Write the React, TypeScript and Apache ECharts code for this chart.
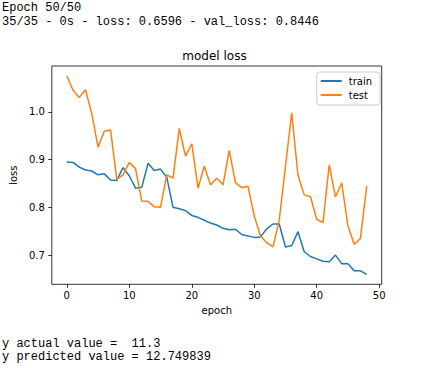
import React, { useEffect, useRef } from "react";
import * as echarts from "echarts";

const epochs = [
  0, 1, 2, 3, 4, 5, 6, 7, 8, 9, 10, 11, 12, 13, 14, 15, 16, 17, 18, 19, 20, 21, 22, 23, 24,
  25, 26, 27, 28, 29, 30, 31, 32, 33, 34, 35, 36, 37, 38, 39, 40, 41, 42, 43, 44, 45, 46, 47, 48,
];

const trainLoss = [
  0.895, 0.894, 0.884, 0.878, 0.876, 0.868, 0.87, 0.857, 0.856, 0.883, 0.866, 0.84, 0.842,
  0.892, 0.877, 0.88, 0.863, 0.8, 0.797, 0.793, 0.783, 0.779, 0.773, 0.767, 0.763, 0.756,
  0.753, 0.754, 0.743, 0.74, 0.737, 0.738, 0.755, 0.765, 0.765, 0.717, 0.72, 0.749, 0.707,
  0.697, 0.692, 0.687, 0.686, 0.7, 0.682, 0.682, 0.667, 0.667, 0.6596,
];

const testLoss = [
  1.075, 1.045, 1.03, 1.046, 0.996, 0.926, 0.959, 0.962, 0.859, 0.868, 0.894, 0.881, 0.813,
  0.8125, 0.801, 0.8, 0.868, 0.861, 0.965, 0.907, 0.933, 0.84, 0.886, 0.847, 0.861, 0.847,
  0.919, 0.851, 0.841, 0.844, 0.782, 0.74, 0.726, 0.717, 0.773, 0.886, 0.998, 0.867, 0.826,
  0.822, 0.775, 0.768, 0.889, 0.8215, 0.851, 0.761, 0.7225, 0.735, 0.8446,
];

const xTicks = [0, 10, 20, 30, 40, 50];
const yTicks = [0.7, 0.8, 0.9, 1.0];

const consoleTop = ["Epoch 50/50", "35/35 - 0s - loss: 0.6596 - val_loss: 0.8446"];
const consoleBottom = ["y actual value =  11.3", "y predicted value = 12.749839"];

const seriesNames = ["train", "test"];
const chartTitle = "model loss";

export default function App() {
  const ref = useRef<HTMLDivElement>(null);

  useEffect(() => {
    if (!ref.current) return;
    const chart = echarts.init(ref.current, undefined, { renderer: "svg" });
    const mono = '"Liberation Mono", "DejaVu Sans Mono", monospace';
    const sans = '"DejaVu Sans", sans-serif';
    const gridLeft = 47.3;
    const gridRight = 62.3;
    const gridTop = 66;
    const gridBottom = 83.7;
    const plotCenterX = gridLeft + (444 - gridLeft - gridRight) / 2;

    const consoleText = (text: string, y: number) => ({
      type: "text",
      x: 2,
      y,
      style: {
        text,
        fill: "#000",
        font: `12px ${mono}`,
        verticalAlign: "middle",
        align: "left",
      },
    });

    chart.setOption({
      animation: false,
      backgroundColor: "#fff",
      grid: {
        left: gridLeft,
        right: gridRight,
        top: gridTop,
        bottom: gridBottom,
        show: true,
        borderColor: "#000",
        borderWidth: 0.8,
        backgroundColor: "transparent",
      },
      legend: {
        data: seriesNames,
        orient: "vertical",
        right: 64,
        top: 72,
        icon: "rect",
        itemWidth: 21,
        itemHeight: 2,
        itemGap: 2,
        padding: [3, 8, 4, 4],
        borderColor: "#ccc",
        borderWidth: 1,
        borderRadius: 3,
        backgroundColor: "rgba(255,255,255,0.8)",
        textStyle: { fontSize: 10, fontFamily: sans, color: "#000", lineHeight: 12, padding: [0, 0, 0, 2] },
      },
      xAxis: {
        type: "value",
        min: -2.4,
        max: 50.4,
        name: "epoch",
        nameLocation: "middle",
        nameGap: 20,
        nameTextStyle: { fontSize: 10, fontFamily: sans, color: "#000" },
        axisLine: { show: false, onZero: false },
        axisTick: { show: true, length: 3.5, lineStyle: { color: "#000", width: 0.8 }, customValues: xTicks },
        axisLabel: {
          fontSize: 10,
          fontFamily: sans,
          color: "#000",
          margin: 6,
          customValues: xTicks,
          formatter: (v: number) => String(Math.round(v)),
        },
        splitLine: { show: false },
      },
      yAxis: {
        type: "value",
        min: 0.6388,
        max: 1.0958,
        name: "loss",
        nameLocation: "middle",
        nameGap: 26,
        nameTextStyle: { fontSize: 10, fontFamily: sans, color: "#000" },
        axisLine: { show: false, onZero: false },
        axisTick: { show: true, length: 3.5, lineStyle: { color: "#000", width: 0.8 }, customValues: yTicks },
        axisLabel: {
          fontSize: 10,
          fontFamily: sans,
          color: "#000",
          margin: 7,
          customValues: yTicks,
          formatter: (v: number) => v.toFixed(1),
        },
        splitLine: { show: false },
      },
      series: [
        {
          name: seriesNames[0],
          type: "line",
          symbol: "none",
          data: epochs.map((e, i) => [e, trainLoss[i]]),
          lineStyle: { width: 1.5, color: "#1f77b4" },
          itemStyle: { color: "#1f77b4" },
          z: 2,
        },
        {
          name: seriesNames[1],
          type: "line",
          symbol: "none",
          data: epochs.map((e, i) => [e, testLoss[i]]),
          lineStyle: { width: 1.5, color: "#ff7f0e" },
          itemStyle: { color: "#ff7f0e" },
          z: 3,
        },
      ],
      graphic: [
        consoleText(consoleTop[0], 7.5),
        consoleText(consoleTop[1], 21.5),
        consoleText(consoleBottom[0], 344),
        consoleText(consoleBottom[1], 356.5),
        {
          type: "text",
          x: plotCenterX,
          y: 55.5,
          style: {
            text: chartTitle,
            fill: "#000",
            font: `12px ${sans}`,
            align: "center",
            verticalAlign: "middle",
          },
        },
      ],
    });
    return () => chart.dispose();
  }, []);

  return (
    <div
      ref={ref}
      style={{ position: "absolute", left: 0, top: 0, width: 444, height: 368, background: "#fff" }}
    />
  );
}
